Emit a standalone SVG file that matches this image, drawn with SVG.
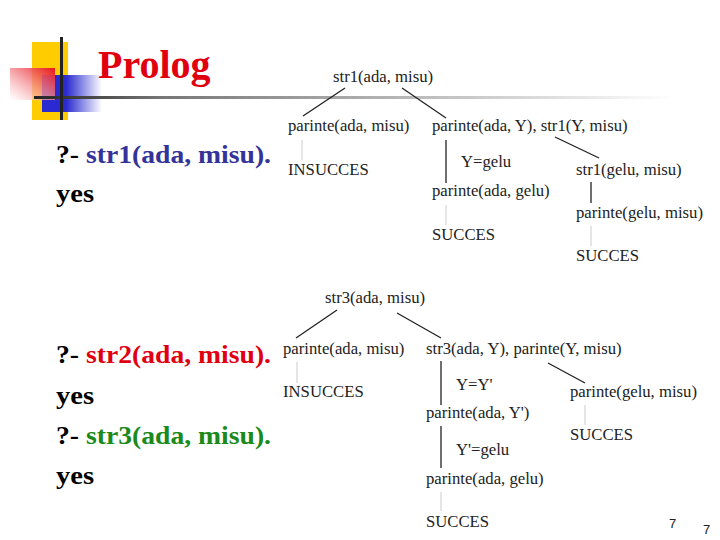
<svg xmlns="http://www.w3.org/2000/svg" width="720" height="540" viewBox="0 0 720 540">
<defs>
<linearGradient id="hl" x1="0" x2="1"><stop offset="0" stop-color="#222"/><stop offset="0.2" stop-color="#777"/><stop offset="1" stop-color="#fff"/></linearGradient>
<linearGradient id="bl" x1="0" x2="1"><stop offset="0.4" stop-color="#2a2ad0"/><stop offset="1" stop-color="#fff"/></linearGradient>
<linearGradient id="rd" x1="1" x2="0" y1="0" y2="1"><stop offset="0" stop-color="#e8101a"/><stop offset="1" stop-color="#fff" stop-opacity="0.6"/></linearGradient>
<style>
.e{stroke:#222;stroke-width:1.3}
.f{stroke:#ccc;stroke-width:1}
</style>
</defs>
<g id="logo">
<rect x="32" y="42" width="36" height="78" fill="#ffcc00"/>
<rect x="42" y="75" width="60" height="37" fill="url(#bl)"/>
<rect x="10" y="68" width="45" height="32" fill="url(#rd)"/>
<rect x="34" y="96" width="640" height="3" fill="url(#hl)"/>
<rect x="60" y="37" width="3" height="83" fill="#222"/>
<text x="98" y="78" font-family="Liberation Serif" font-size="40" font-weight="bold" fill="#e00010">Prolog</text>
</g>
<g id="queries">
<text x="56" y="163" font-family="Liberation Serif" font-weight="bold" font-size="25" fill="#000" textLength="215" lengthAdjust="spacingAndGlyphs">?- <tspan fill="#333399">str1(ada, misu).</tspan></text>
<text x="56" y="202" font-family="Liberation Serif" font-weight="bold" font-size="25" fill="#000" textLength="38" lengthAdjust="spacingAndGlyphs">yes</text>
<text x="56" y="363" font-family="Liberation Serif" font-weight="bold" font-size="25" fill="#000" textLength="215" lengthAdjust="spacingAndGlyphs">?- <tspan fill="#e00010">str2(ada, misu).</tspan></text>
<text x="56" y="404" font-family="Liberation Serif" font-weight="bold" font-size="25" fill="#000" textLength="38" lengthAdjust="spacingAndGlyphs">yes</text>
<text x="56" y="444" font-family="Liberation Serif" font-weight="bold" font-size="25" fill="#000" textLength="215" lengthAdjust="spacingAndGlyphs">?- <tspan fill="#1a8a1a">str3(ada, misu).</tspan></text>
<text x="56" y="484" font-family="Liberation Serif" font-weight="bold" font-size="25" fill="#000" textLength="38" lengthAdjust="spacingAndGlyphs">yes</text>
</g>
<g id="connectors">
<line class="e" x1="345" y1="88" x2="303" y2="116"/>
<line class="e" x1="402" y1="88" x2="446" y2="118"/>
<line class="f" x1="302" y1="140" x2="302" y2="160"/>
<line class="e" x1="446" y1="140" x2="446" y2="183"/>
<line class="f" x1="446" y1="205" x2="446" y2="225"/>
<line class="e" x1="555" y1="137" x2="599" y2="158"/>
<line class="e" x1="591" y1="182" x2="591" y2="203" stroke-width="2"/>
<line class="f" x1="591" y1="226" x2="591" y2="246"/>
<line class="e" x1="337" y1="310" x2="296" y2="338"/>
<line class="e" x1="397" y1="313" x2="441" y2="338"/>
<line class="f" x1="297" y1="362" x2="297" y2="383"/>
<line class="e" x1="441" y1="361" x2="441" y2="405"/>
<line class="e" x1="548" y1="363" x2="585" y2="383"/>
<line class="f" x1="585" y1="405" x2="585" y2="425"/>
<line class="e" x1="441" y1="426" x2="441" y2="468"/>
<line class="f" x1="441" y1="492" x2="441" y2="511"/>
</g>
<g id="tree1">
<text x="333" y="82" font-family="Liberation Serif" font-size="16.7" fill="#222">str1(ada, misu)</text>
<text x="288" y="131" font-family="Liberation Serif" font-size="16.7" fill="#222">parinte(ada, misu)</text>
<text x="432" y="131" font-family="Liberation Serif" font-size="16.7" fill="#222">parinte(ada, Y), str1(Y, misu)</text>
<text x="288" y="175" font-family="Liberation Serif" font-size="16.7" fill="#222">INSUCCES</text>
<text x="461" y="167" font-family="Liberation Serif" font-size="16.7" fill="#222">Y=gelu</text>
<text x="576" y="175" font-family="Liberation Serif" font-size="16.7" fill="#222">str1(gelu, misu)</text>
<text x="432" y="196" font-family="Liberation Serif" font-size="16.7" fill="#222">parinte(ada, gelu)</text>
<text x="576" y="218" font-family="Liberation Serif" font-size="16.7" fill="#222">parinte(gelu, misu)</text>
<text x="432" y="240" font-family="Liberation Serif" font-size="16.7" fill="#222">SUCCES</text>
<text x="576" y="261" font-family="Liberation Serif" font-size="16.7" fill="#222">SUCCES</text>
</g>
<g id="tree3">
<text x="325" y="303" font-family="Liberation Serif" font-size="16.7" fill="#222">str3(ada, misu)</text>
<text x="283" y="354" font-family="Liberation Serif" font-size="16.7" fill="#222">parinte(ada, misu)</text>
<text x="426" y="354" font-family="Liberation Serif" font-size="16.7" fill="#222">str3(ada, Y), parinte(Y, misu)</text>
<text x="283" y="397" font-family="Liberation Serif" font-size="16.7" fill="#222">INSUCCES</text>
<text x="456" y="390" font-family="Liberation Serif" font-size="16.7" fill="#222">Y=Y'</text>
<text x="570" y="397" font-family="Liberation Serif" font-size="16.7" fill="#222">parinte(gelu, misu)</text>
<text x="426" y="418" font-family="Liberation Serif" font-size="16.7" fill="#222">parinte(ada, Y')</text>
<text x="570" y="440" font-family="Liberation Serif" font-size="16.7" fill="#222">SUCCES</text>
<text x="456" y="455" font-family="Liberation Serif" font-size="16.7" fill="#222">Y'=gelu</text>
<text x="426" y="484" font-family="Liberation Serif" font-size="16.7" fill="#222">parinte(ada, gelu)</text>
<text x="426" y="527" font-family="Liberation Serif" font-size="16.7" fill="#222">SUCCES</text>
</g>
<g id="pagenum">
<text x="669" y="528" font-family="Liberation Sans" font-size="13" fill="#222">7</text>
<text x="703" y="534" font-family="Liberation Sans" font-size="13" fill="#222">7</text>
</g>
</svg>
